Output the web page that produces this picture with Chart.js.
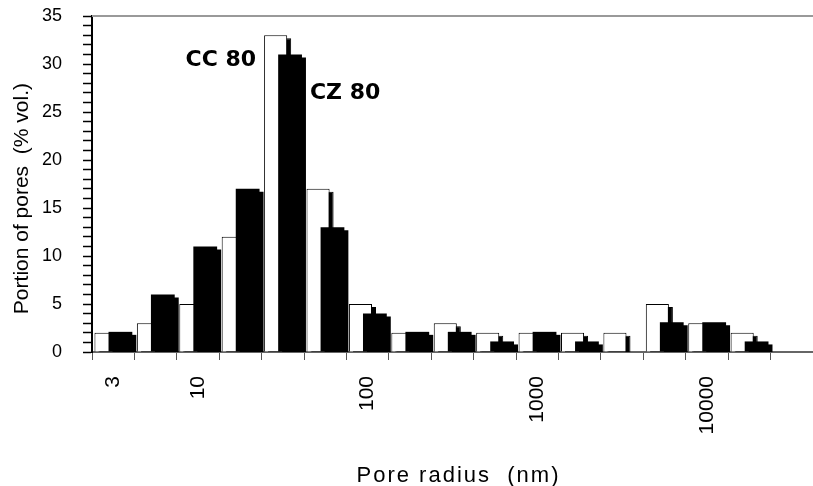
<!DOCTYPE html>
<html>
<head>
<meta charset="utf-8">
<script src="https://cdn.jsdelivr.net/npm/chart.js@4.4.1/dist/chart.umd.min.js"></script>
<style>
  body { margin: 0; background: #fff; }
</style>
</head>
<body>
<canvas id="poreChart" width="813" height="486"></canvas>
<script>
// Pore size distribution - CC 80 (white) vs CZ 80 (black)
const radiusLabels = ['3', '', '10', '', '', '', '100', '', '', '', '1000', '', '', '', '10000', '', ''];
const cc80 = [2, 3, 5, 12, 33, 17, 5, 2, 3, 2, 2, 2, 2, 5, 3, 2, null];
const cz80 = [2.1, 6, 11, 17, 31, 13, 4, 2.1, 2.1, 1.1, 2.1, 1.1, 0, 3.1, 3.1, 1.1, null];
const yTickLabels = [0, 5, 10, 15, 20, 25, 30, 35];

const FONT = "'Liberation Sans', Arial, sans-serif";
Chart.defaults.font.family = FONT;
Chart.defaults.color = '#000';

// Draw one dataset with a hard black drop shadow (the bar element clips
// itself when it has a border, so canvas shadows get cut off)
function drawWithShadow(chart, index) {
    const { ctx, chartArea: a } = chart;
    const controller = chart.getDatasetMeta(index).controller;
    ctx.save();
    ctx.beginPath();
    ctx.rect(a.left, a.top, a.right - a.left, a.bottom - a.top);
    ctx.clip();
    ctx.save();
    ctx.translate(4, 3);
    ctx.filter = 'brightness(0)';
    controller.draw();
    ctx.restore();
    controller.draw();
    ctx.restore();
}

const barShadow = {
    id: 'barShadow',
    beforeDatasetsDraw(chart) {
        // white bars first, black bars painted over them
        drawWithShadow(chart, 0);
        drawWithShadow(chart, 1);
        return false;
    }
};

// Top frame line, series labels and the x title
const extras = {
    id: 'extras',
    afterDraw(chart) {
        const { ctx, chartArea: a, scales } = chart;
        ctx.save();
        ctx.strokeStyle = '#999';
        ctx.lineWidth = 2;
        ctx.beginPath();
        ctx.moveTo(a.left, a.top);
        ctx.lineTo(a.right, a.top);
        ctx.stroke();

        const white = chart.getDatasetMeta(0).data[4];
        const black = chart.getDatasetMeta(1).data[4];
        ctx.fillStyle = '#000';
        ctx.font = "bold 22px 'DejaVu Sans', sans-serif";
        ctx.textBaseline = 'alphabetic';
        ctx.textAlign = 'right';
        ctx.fillText('CC 80', white.x - white.width / 2 - 8, scales.y.getPixelForValue(29.8));
        ctx.textAlign = 'left';
        ctx.fillText('CZ 80', black.x + black.width / 2 + 8, scales.y.getPixelForValue(26.4));

        ctx.font = '22px ' + FONT;
        ctx.letterSpacing = '2px';
        ctx.textAlign = 'center';
        ctx.fillText('Pore radius  (nm)', (a.left + a.right) / 2 + 6, a.bottom + 130);
        ctx.restore();
    }
};

new Chart(document.getElementById('poreChart'), {
    type: 'bar',
    data: {
        labels: radiusLabels,
        datasets: [{
            label: 'CC 80',
            data: cc80,
            backgroundColor: '#fff',
            borderColor: '#000',
            borderWidth: 1,
            categoryPercentage: 0.68,
            barPercentage: 1.6
        }, {
            label: 'CZ 80',
            data: cz80,
            backgroundColor: '#000',
            borderColor: '#000',
            borderWidth: 0,
            categoryPercentage: 0.68,
            barPercentage: 1.65
        }]
    },
    options: {
        responsive: false,
        animation: false,
        layout: { padding: { top: 16, right: -4, bottom: 0, left: 0 } },
        plugins: {
            legend: { display: false },
            tooltip: { enabled: false }
        },
        scales: {
            x: {
                offset: true,
                afterFit: s => {
                    s.height = 134;
                    s.paddingLeft = 0;
                    s.paddingRight = 0;
                },
                grid: {
                    offset: true,
                    drawOnChartArea: false,
                    tickLength: 8,
                    tickColor: '#555'
                },
                border: { color: '#666', width: 2 },
                ticks: {
                    autoSkip: false,
                    minRotation: 90,
                    maxRotation: 90,
                    padding: 16,
                    font: { size: 21 }
                }
            },
            y: {
                min: 0,
                max: 35,
                afterFit: s => {
                    s.width = 92;
                    s.paddingTop = 0;
                    s.paddingBottom = 0;
                },
                grid: {
                    drawOnChartArea: false,
                    tickLength: 9,
                    tickWidth: 1.5,
                    tickColor: '#000'
                },
                border: { color: '#000', width: 2 },
                ticks: {
                    stepSize: 1,
                    autoSkip: false,
                    padding: 21,
                    font: { size: 18 },
                    callback: v => yTickLabels.includes(v) ? v : ''
                },
                title: {
                    display: true,
                    text: 'Portion of pores  (% vol.)' + '\u00a0'.repeat(5),
                    font: { size: 21 },
                    padding: { top: 10, bottom: 0 }
                }
            }
        }
    },
    plugins: [barShadow, extras]
});
</script>
</body>
</html>
